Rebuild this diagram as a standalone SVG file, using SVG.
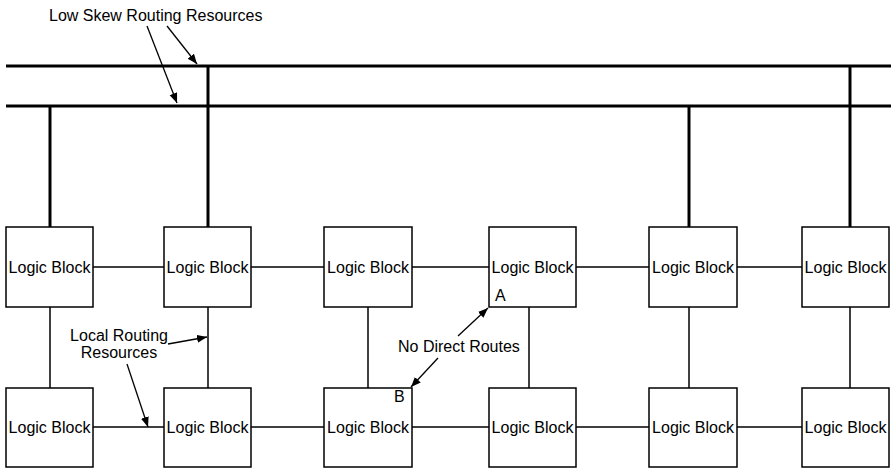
<svg xmlns="http://www.w3.org/2000/svg" width="891" height="468" viewBox="0 0 891 468">
<style>
.blk rect{fill:#fff;stroke:#000;stroke-width:1.5}
text{font-family:"Liberation Sans",Arial,sans-serif;font-size:16px;fill:#000}
.lb{text-anchor:middle}
.bus{stroke:#000;stroke-width:3;fill:none}
.loc{stroke:#000;stroke-width:1.5;fill:none}
.arr{stroke:#000;stroke-width:1.3;fill:none;marker-end:url(#ah)}
</style>
<defs>
<marker id="ah" markerUnits="userSpaceOnUse" markerWidth="12" markerHeight="10" refX="10" refY="4" orient="auto">
<path d="M0,0 L10,4 L0,8 Z" fill="#000"/>
</marker>
</defs>
<g id="connectors">
<line class="bus" x1="6" y1="66" x2="891" y2="66"/>
<line class="bus" x1="6" y1="106" x2="891" y2="106"/>
<line class="bus" x1="50" y1="106" x2="50" y2="227"/>
<line class="bus" x1="208" y1="66" x2="208" y2="227"/>
<line class="bus" x1="689" y1="106" x2="689" y2="227"/>
<line class="bus" x1="850" y1="66" x2="850" y2="227"/>
<line class="loc" x1="93" y1="267" x2="802" y2="267"/>
<line class="loc" x1="93" y1="427" x2="802" y2="427"/>
<line class="loc" x1="50" y1="307" x2="50" y2="388"/>
<line class="loc" x1="208" y1="307" x2="208" y2="388"/>
<line class="loc" x1="368" y1="307" x2="368" y2="388"/>
<line class="loc" x1="529" y1="307" x2="529" y2="388"/>
<line class="loc" x1="689" y1="307" x2="689" y2="388"/>
<line class="loc" x1="850" y1="307" x2="850" y2="388"/>
<line class="arr" x1="147" y1="26" x2="177" y2="103"/>
<line class="arr" x1="167" y1="26" x2="197" y2="64"/>
<line class="arr" x1="168" y1="344" x2="207" y2="337"/>
<line class="arr" x1="127" y1="364" x2="148" y2="427"/>
<line class="arr" x1="458" y1="336" x2="488" y2="308"/>
<line class="arr" x1="438" y1="358" x2="411" y2="387"/>
</g>
<g id="lb1" class="blk"><rect x="6" y="227" width="87" height="80"/><text class="lb" x="49.5" y="273">Logic Block</text></g>
<g id="lb2" class="blk"><rect x="164" y="227" width="87" height="80"/><text class="lb" x="207.5" y="273">Logic Block</text></g>
<g id="lb3" class="blk"><rect x="324" y="227" width="88" height="80"/><text class="lb" x="368" y="273">Logic Block</text></g>
<g id="lb4" class="blk"><rect x="489" y="227" width="87" height="80"/><text class="lb" x="532.5" y="273">Logic Block</text><text x="495" y="301">A</text></g>
<g id="lb5" class="blk"><rect x="649" y="227" width="88" height="80"/><text class="lb" x="693" y="273">Logic Block</text></g>
<g id="lb6" class="blk"><rect x="802" y="227" width="87" height="80"/><text class="lb" x="845.5" y="273">Logic Block</text></g>
<g id="lb7" class="blk"><rect x="6" y="388" width="87" height="79"/><text class="lb" x="49.5" y="433">Logic Block</text></g>
<g id="lb8" class="blk"><rect x="164" y="388" width="87" height="79"/><text class="lb" x="207.5" y="433">Logic Block</text></g>
<g id="lb9" class="blk"><rect x="324" y="388" width="88" height="79"/><text class="lb" x="368" y="433">Logic Block</text><text x="394" y="402">B</text></g>
<g id="lb10" class="blk"><rect x="489" y="388" width="87" height="79"/><text class="lb" x="532.5" y="433">Logic Block</text></g>
<g id="lb11" class="blk"><rect x="649" y="388" width="88" height="79"/><text class="lb" x="693" y="433">Logic Block</text></g>
<g id="lb12" class="blk"><rect x="802" y="388" width="87" height="79"/><text class="lb" x="845.5" y="433">Logic Block</text></g>
<g id="labels">
<text x="49" y="21">Low Skew Routing Resources</text>
<text class="lb" x="119" y="341">Local Routing</text>
<text class="lb" x="119" y="358">Resources</text>
<text x="398" y="352">No Direct Routes</text>
</g>
</svg>
